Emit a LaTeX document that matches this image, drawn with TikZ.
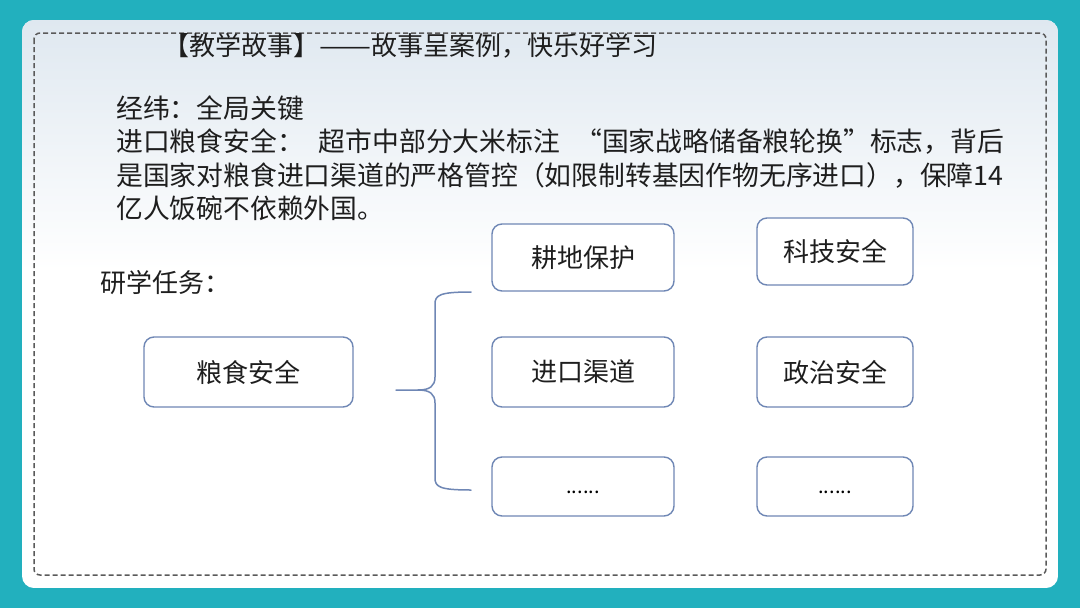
\documentclass[tikz,border=0pt]{standalone}
\usepackage{fontspec}
\usepackage{graphicx}
\setmainfont{Noto Sans CJK SC}
\definecolor{bg}{HTML}{22B0BE}
\definecolor{topc}{HTML}{DFE8F0}
\definecolor{boxc}{HTML}{6F87B5}
\definecolor{txt}{HTML}{1E1E1E}
\definecolor{dashc}{HTML}{5A5A5A}
\begin{document}
\begin{tikzpicture}[x=1pt,y=-1pt,
  every node/.style={inner sep=0pt, text=txt},
  body/.style={anchor=west, font=\fontsize{26.8}{30}\selectfont},
  box/.style={draw=boxc, line width=1.4pt, rounded corners=10pt, fill=white,
              font=\fontsize{26}{30}\selectfont, align=center},
  dots/.style={font=\fontsize{20}{24}\selectfont, text=black},
  bracec/.style={draw=boxc, line width=1.5pt, line cap=round}]
\useasboundingbox (0,0) rectangle (1080,608);
\fill[bg] (0,0) rectangle (1080,608);
\begin{scope}
  \clip[rounded corners=12pt] (22,20) rectangle (1058,588);
  \fill[white] (22,20) rectangle (1058,588);
  \shade[top color=topc, bottom color=white] (22,20) rectangle (1058,270);
\end{scope}
\draw[dashc, line width=1.5pt, dash pattern=on 5pt off 3pt, rounded corners=6pt]
  (34,33) rectangle (1046,575);

% title and text
\node[body, font=\fontsize{26}{30}\selectfont] (title) at (163,46) {【教学故事】\resizebox{2em}{\height}{——}故事呈案例，快乐好学习};
\node[body] (l1) at (116,108) {经纬：全局关键};
\node[body] (l2) at (116,142) {\makebox[888pt][l]{进口粮食安全：\hfill 超市中部分大米标注\hfill “国家战略储备粮轮换”标志，背后}};
\node[body] (l3) at (116,175) {是国家对粮食进口渠道的严格管控（如限制转基因作物无序进口），保障14};
\node[body] (l4) at (116,208) {亿人饭碗不依赖外国。};
\node[body, font=\fontsize{26}{30}\selectfont] (task) at (100,283) {研学任务：};

% boxes
\node[box, minimum width=209pt, minimum height=70pt] (food) at (248.5,372) {粮食安全};
\node[box, minimum width=182pt, minimum height=67pt] (land) at (583,257.5) {耕地保护};
\node[box, minimum width=182pt, minimum height=70pt] (imp) at (583,372) {进口渠道};
\node[box, minimum width=182pt, minimum height=59pt] (dotA) at (583,486.5) {};
\node[dots] (dotAt) at (583,492) {......};
\node[box, minimum width=156pt, minimum height=67pt] (tech) at (835,251.5) {科技安全};
\node[box, minimum width=156pt, minimum height=70pt] (pol) at (835,372) {政治安全};
\node[box, minimum width=156pt, minimum height=59pt] (dotB) at (835,486.5) {};
\node[dots] (dotBt) at (835,492) {......};

% brace
\coordinate (btip) at (396,390);
\coordinate (bmid) at (418,390);
\coordinate (btop) at (471,292);
\coordinate (bbot) at (471,490);
\draw[bracec] (btip) -- (bmid) .. controls (430,390) and (435,386) .. (435,377)
  -- (435,304) .. controls (435,295) and (440,292) .. (btop);
\draw[bracec] (bmid) .. controls (430,390) and (435,394) .. (435,403)
  -- (435,478) .. controls (435,487) and (440,490) .. (bbot);
\end{tikzpicture}
\end{document}
